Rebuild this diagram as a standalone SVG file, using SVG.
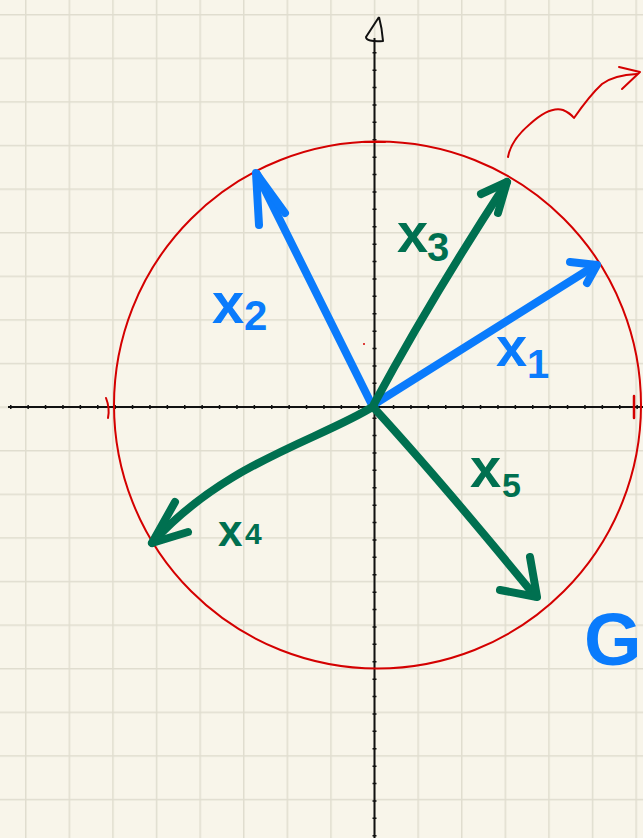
<svg xmlns="http://www.w3.org/2000/svg" width="643" height="838" viewBox="0 0 643 838">
  <defs>
    <pattern id="grid" patternUnits="userSpaceOnUse" x="25" y="14" width="43.6" height="43.6">
      <path d="M0,0 H43.6 M0,0 V43.6" fill="none" stroke="#e0ddcf" stroke-width="3"/>
    </pattern>
    <style>
      .axis { stroke: #111; stroke-width: 2; fill: none; }
      .tick { stroke: #111; stroke-width: 4; fill: none; }
      .red { stroke: #d40000; fill: none; stroke-linecap: round; stroke-linejoin: round; }
      .vec { fill: none; stroke-width: 8; stroke-linecap: round; stroke-linejoin: round; }
      .blue { stroke: #0a7bfc; }
      .green { stroke: #007050; }
      .lbl { font-family: "Liberation Sans", Arial, sans-serif; font-weight: bold; }
      .lb { fill: #0a7bfc; }
      .lg { fill: #007050; }
    </style>
  </defs>
  <rect width="643" height="838" fill="#f8f5ea"/>
  <rect width="643" height="838" fill="url(#grid)"/>

  <g id="axes">
    <line class="axis" x1="374.5" y1="38" x2="374.5" y2="838"/>
    <line class="axis" x1="8" y1="407" x2="643" y2="407"/>
    <line class="tick" x1="374.5" y1="52" x2="374.5" y2="838" stroke-dasharray="1.5 15.9"/>
    <line class="tick" x1="10" y1="407" x2="643" y2="407" stroke-dasharray="1.5 15.9"/>
    <path class="axis" d="M379,17 L366,37 Q366,42 383,41 Q382,28 379,17" stroke-width="2.5" stroke-linejoin="round"/>
  </g>

  <g id="circle">
    <circle class="red" cx="377.5" cy="405" r="263.5" stroke-width="2"/>
    <path class="red" d="M106,398 Q110,408 108,418" stroke-width="2"/>
    <path class="red" d="M634,396 L634,418" stroke-width="2.5"/>
    <path class="red" d="M364,142 L385,142" stroke-width="2"/>
    <circle cx="364" cy="344" r="1" fill="#d40000"/>
  </g>

  <g id="squiggle">
    <path class="red" stroke-width="2" d="M508,157 Q511,140 530,124 Q550,106 563,110 Q570,113 574,118 Q590,95 602,84 Q614,75 637,74"/>
    <path class="red" stroke-width="2" d="M619,67 L640,72 L622,89"/>
  </g>

  <g id="connectors">
    <g id="x1-vec">
      <path class="vec blue" d="M373,405 L596,265"/>
      <path class="vec blue" d="M570,262 L597,265 L587,283"/>
    </g>
    <g id="x2-vec">
      <path class="vec blue" d="M372,405 Q320,300 257,174"/>
      <path class="vec blue" d="M259,225 L256,173 L285,213"/>
    </g>
    <g id="x3-vec">
      <path class="vec green" d="M374,404 Q430,300 507,182"/>
      <path class="vec green" d="M481,194 L507,182 L498,213"/>
    </g>
    <g id="x4-vec">
      <path class="vec green" d="M374,406 C320,440 225,462 152,543"/>
      <path class="vec green" d="M175,502 L152,543 L188,532"/>
    </g>
    <g id="x5-vec">
      <path class="vec green" d="M374,408 Q440,480 535,596"/>
      <path class="vec green" d="M530,557 L537,597 L500,590"/>
    </g>
  </g>

  <g id="label-x1">
    <text class="lbl lb" x="496" y="366" font-size="56">x</text>
    <text class="lbl lb" x="527" y="378" font-size="40">1</text>
  </g>
  <g id="label-x2">
    <text class="lbl lb" x="212" y="323" font-size="58">x</text>
    <text class="lbl lb" x="244" y="330" font-size="42">2</text>
  </g>
  <g id="label-x3">
    <text class="lbl lg" x="397" y="252" font-size="56">x</text>
    <text class="lbl lg" x="427" y="261" font-size="40">3</text>
  </g>
  <g id="label-x4">
    <text class="lbl lg" x="218" y="546" font-size="44">x</text>
    <text class="lbl lg" x="245" y="544" font-size="30">4</text>
  </g>
  <g id="label-x5">
    <text class="lbl lg" x="470" y="487" font-size="56">x</text>
    <text class="lbl lg" x="502" y="497" font-size="34">5</text>
  </g>
  <g id="label-gi">
    <text class="lbl lb" x="584" y="665" font-size="74">Gi</text>
  </g>
</svg>
